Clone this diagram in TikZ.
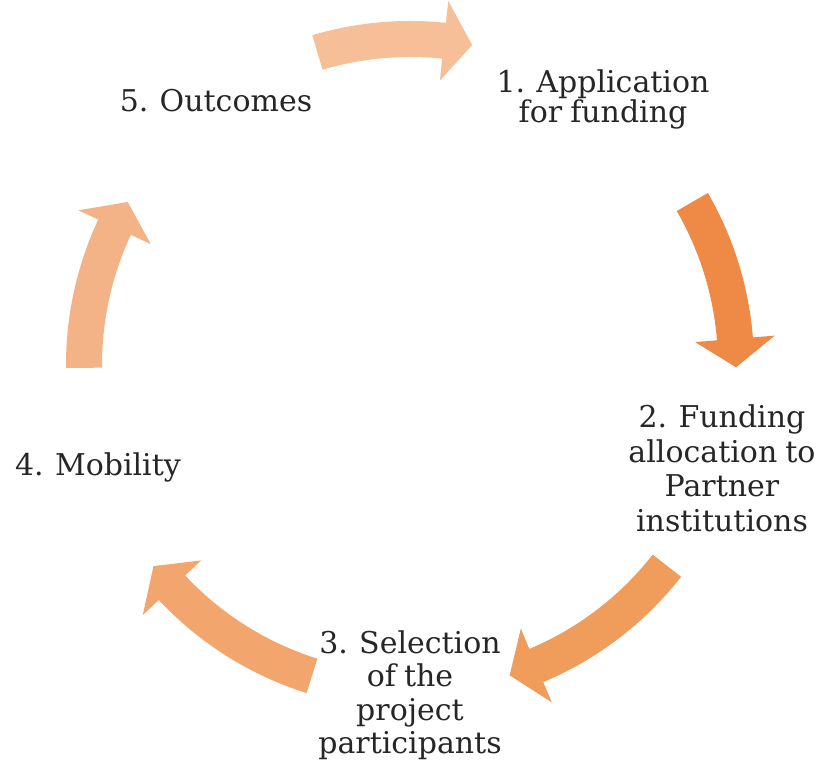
\documentclass[tikz,border=0pt]{standalone}
\usepackage{fontspec}
\setmainfont{DejaVu Serif}[WordSpace=0.85]
\usetikzlibrary{calc}
\definecolor{aone}{HTML}{F6BF98}
\definecolor{atwo}{HTML}{EE8A45}
\definecolor{athree}{HTML}{F09C5B}
\definecolor{afour}{HTML}{F2A66E}
\definecolor{afive}{HTML}{F3B386}
\definecolor{txt}{HTML}{262626}
\newcommand{\cycarrow}[3]{% tail angle, tip angle, colour
  \pgfmathsetmacro{\hb}{#2+5}
  \fill[#3] (#1:344pt) arc[start angle=#1, end angle=\hb, radius=344pt]
    -- (\hb:366pt) -- (#2:326pt) -- (\hb:286pt) -- (\hb:308pt)
    arc[start angle=\hb, end angle=#1, radius=308pt] -- cycle;}
\tikzset{lbl/.style={text=txt, font=\fontsize{30}{34.5}\selectfont, align=center, inner sep=0pt}}
\begin{document}
\begin{tikzpicture}
\useasboundingbox (0,0) rectangle (831pt,767pt);
\begin{scope}[shift={(410pt,402pt)}]
\cycarrow{106.5}{79}{aone}
\cycarrow{30}{-0.4}{atwo}
\cycarrow{-38}{-72.2}{athree}
\cycarrow{-107.5}{-141.9}{afour}
\cycarrow{-179.5}{-210}{afive}
\end{scope}
\node[lbl, font=\fontsize{30}{30}\selectfont] (n1) at (603pt,668pt) {1. Application\\for funding};
\node[lbl] (n2) at (722pt,298.5pt) {2. Funding\\allocation to\\Partner\\institutions};
\node[lbl, font=\fontsize{30}{33.5}\selectfont] (n3) at (410pt,72pt) {3. Selection\\of the\\project\\participants};
\node[lbl] (n4) at (98pt,299.5pt) {4. Mobility};
\node[lbl] (n5) at (216pt,666pt) {5. Outcomes};
\end{tikzpicture}
\end{document}
